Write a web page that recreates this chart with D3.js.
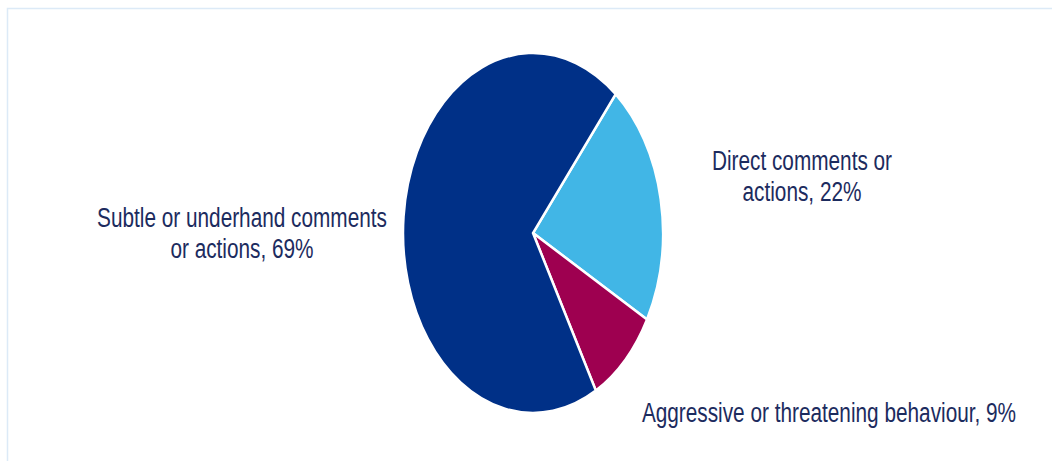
<!DOCTYPE html>
<html>
<head>
<meta charset="utf-8">
<script src="https://cdn.jsdelivr.net/npm/d3@7"></script>
<style>
  body { margin: 0; background: #fff; }
  text { font-family: "Liberation Sans Narrow", "Arial Narrow", "Liberation Sans", sans-serif; fill: #1c2b5e; }
</style>
</head>
<body>
<div id="chart"></div>
<script>
'use strict'

const categories = ['Direct comments or actions', 'Aggressive or threatening behaviour', 'Subtle or underhand comments or actions']
const values = [22, 9, 69]
const colors = ['#41b6e6', '#9e0050', '#003087']
const labelLines = [
	['Direct comments or', 'actions, 22%'],
	['Aggressive or threatening behaviour, 9%'],
	['Subtle or underhand comments', 'or actions, 69%']
]

const width = 1052,
		height = 461

const svg = d3.select('#chart').append('svg')
	.attr('width', width)
	.attr('height', height)

// frame
svg.append('path')
	.attr('d', `M7.5,${height} V8.5 H${width}`)
	.attr('fill', 'none')
	.attr('stroke', '#dceaf7')
	.attr('stroke-width', 1.5)

const cx = 533, cy = 233, rx = 130, ry = 180

const pie = d3.pie()
	.sort(null)
	.value(d => d)
	.startAngle(39.5 * Math.PI / 180)
	.endAngle(39.5 * Math.PI / 180 + 2 * Math.PI)

const arc = d3.arc().innerRadius(0).outerRadius(rx)

const g = svg.append('g')
	.attr('transform', `translate(${cx},${cy}) scale(1,${ry / rx})`)

g.selectAll('path')
	.data(pie(values))
	.enter().append('path')
	.attr('d', arc)
	.attr('fill', (d, i) => colors[i])
	.attr('stroke', '#fff')
	.attr('stroke-width', 2.5)
	.attr('vector-effect', 'non-scaling-stroke')

// labels (condensed look, like the original narrow face)
const labelPos = [
	{ x: 802, y: 170 },
	{ x: 829, y: 422 },
	{ x: 242, y: 227 }
]
const squeeze = 0.77

const labels = svg.append('g').selectAll('g')
	.data(labelLines)
	.enter().append('g')
	.attr('transform', (d, i) => `translate(${labelPos[i].x},${labelPos[i].y}) scale(${squeeze},1)`)
	.append('text')
	.attr('text-anchor', 'middle')
	.attr('font-size', 27)

labels.selectAll('tspan')
	.data(d => d)
	.enter().append('tspan')
	.attr('x', 0)
	.attr('dy', (d, j) => j === 0 ? 0 : 31)
	.text(d => d)
</script>
</body>
</html>
